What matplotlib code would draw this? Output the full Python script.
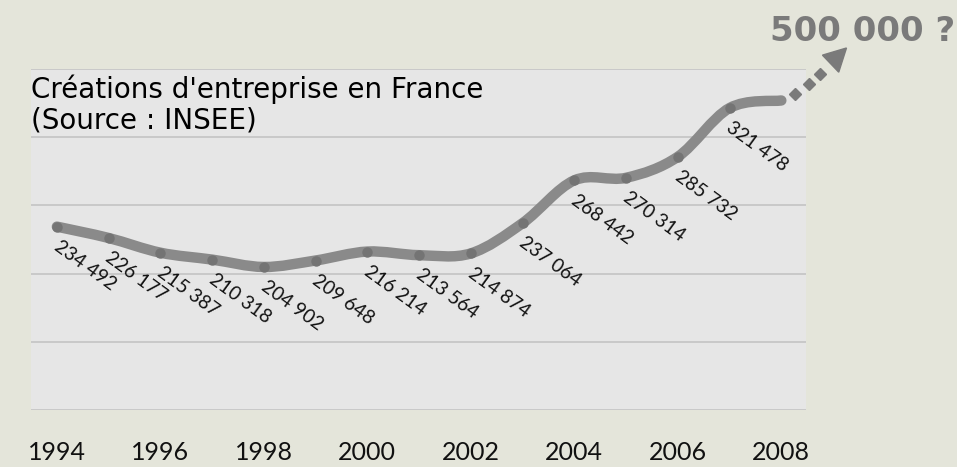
import numpy as np
import matplotlib
matplotlib.use("Agg")
import matplotlib.pyplot as plt
from matplotlib.path import Path
from matplotlib.patches import PathPatch, Polygon

# Créations d'entreprise en France, 1994-2008 (INSEE)
years = [1994, 1995, 1996, 1997, 1998, 1999, 2000, 2001,
         2002, 2003, 2004, 2005, 2006, 2007, 2008]
creations = [234492, 226177, 215387, 210318, 204902, 209648, 216214, 213564,
             214874, 237064, 268442, 270314, 285732, 321478, 327000]
# the last point carries no label in the original
value_labels = ["234 492", "226 177", "215 387", "210 318", "204 902", "209 648",
                "216 214", "213 564", "214 874", "237 064", "268 442", "270 314",
                "285 732", "321 478", ""]
tick_years = [1994, 1996, 1998, 2000, 2002, 2004, 2006, 2008]
grid_values = [100000, 150000, 200000, 250000, 300000, 350000]

title_text = "Créations d'entreprise en France\n(Source : INSEE)"
forecast_text = "500 000 ?"

BG = "#e4e5da"
PLOT_BG = "#e6e6e6"
LINE_COLOR = "#8a8a8a"
DOT_COLOR = "#747474"
GREY_TEXT = "#7a7a7a"


def smooth_path(x, y):
    # Catmull-Rom style smoothing turned into cubic Bezier segments
    pts = np.column_stack([x, y]).astype(float)
    n = len(pts)
    verts = [pts[0]]
    codes = [Path.MOVETO]
    for i in range(n - 1):
        p0 = pts[max(i - 1, 0)]
        p1 = pts[i]
        p2 = pts[i + 1]
        p3 = pts[min(i + 2, n - 1)]
        c1 = p1 + (p2 - p0) / 6.0
        c2 = p2 - (p3 - p1) / 6.0
        verts += [c1, c2, p2]
        codes += [Path.CURVE4] * 3
    return Path(verts, codes)


fig = plt.figure(figsize=(9.57, 4.67), dpi=100, facecolor=BG)
ax = fig.add_axes([0.0324, 0.122, 0.81, 0.730])
ax.set_facecolor(PLOT_BG)

ax.set_xlim(1993.5, 2008.48)
ax.set_ylim(grid_values[0], grid_values[-1])

for gv in grid_values:
    ax.axhline(gv, color="#c4c4c4", lw=1.2, zorder=1)

# smoothed thick line
patch = PathPatch(smooth_path(years, creations), facecolor="none",
                  edgecolor=LINE_COLOR, lw=7.5, capstyle="round",
                  joinstyle="round", zorder=3)
ax.add_patch(patch)
ax.plot(years[:-1], creations[:-1], linestyle="none", marker="o",
        markersize=6.5, color=DOT_COLOR, zorder=4)

for x, y, lab in zip(years, creations, value_labels):
    if lab:
        ax.annotate(lab, (x, y), xytext=(20, -28), textcoords="offset points",
                    ha="center", va="center", rotation=-36,
                    fontsize=13.8, family="Lato", color="#111111", zorder=5)

ax.set_xticks(tick_years)
ax.set_xticklabels([str(t) for t in tick_years], fontsize=18, family="Lato",
                   color="#111111")
ax.set_yticks([])
ax.tick_params(axis="x", length=0, pad=22)
for side in ["top", "right", "left", "bottom"]:
    ax.spines[side].set_visible(False)

ax.text(0.0, 0.985, title_text, transform=ax.transAxes, ha="left", va="top",
        fontsize=20, family="DejaVu Sans", color="black", linespacing=1.12,
        zorder=6)

# dotted arrow towards the forecast
arrow_dots_x = [0.985, 1.003, 1.018]
arrow_dots_y = [0.928, 0.957, 0.987]
ax.plot(arrow_dots_x, arrow_dots_y, linestyle="none", marker="D",
        markersize=6.5, color=GREY_TEXT, transform=ax.transAxes, clip_on=False)
head = Polygon([[1.052, 1.062], [1.021, 1.041], [1.042, 0.991]],
               closed=True, transform=ax.transAxes, color=GREY_TEXT,
               clip_on=False)
ax.add_patch(head)

fig.text(0.998, 0.933, forecast_text, ha="right", va="center", fontsize=24.5,
         fontweight="bold", family="DejaVu Sans", color=GREY_TEXT)

fig.savefig("out.png", dpi=100, facecolor=BG)
